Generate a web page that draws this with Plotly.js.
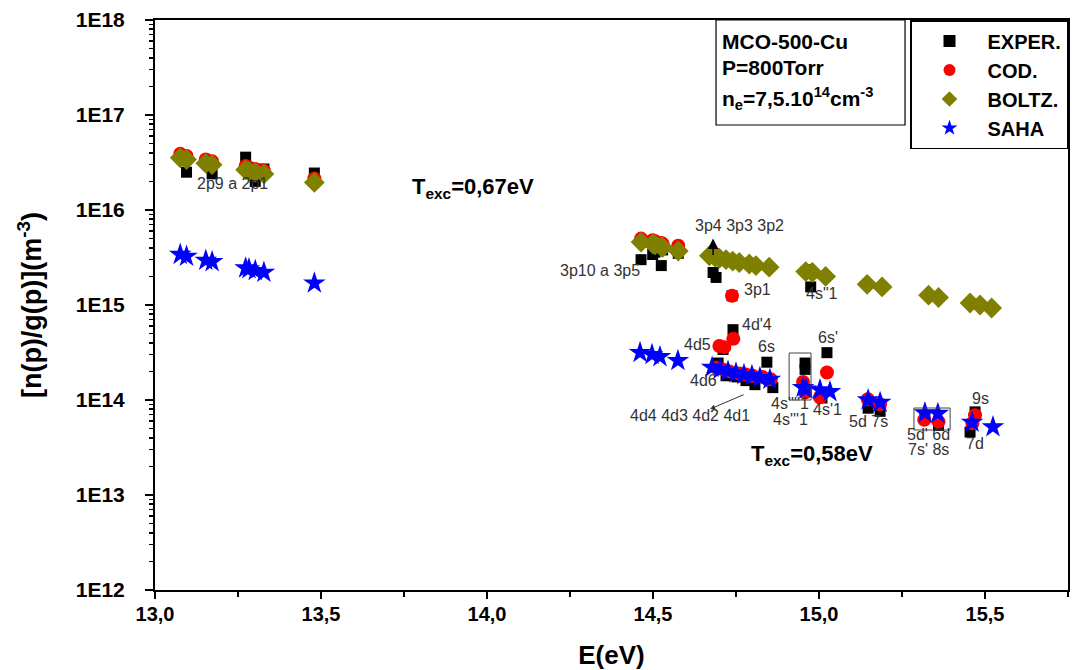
<!DOCTYPE html>
<html>
<head>
<meta charset="utf-8">
<script src="https://cdn.plot.ly/plotly-3.0.1.min.js"></script>
<style>html,body{margin:0;padding:0;background:#fff;}#chart{width:1072px;height:670px;}</style>
</head>
<body>
<div id="chart"></div>
<script>
// ---- data (energy in eV, n(p)/g(p) in m^-3) ----
const experE = [13.076,13.095,13.153,13.172,13.273,13.283,13.302,13.328,13.480,
  14.464,14.499,14.506,14.525,14.529,14.576,14.681,14.690,14.738,14.975,
  14.696,14.711,14.741,14.720,14.753,14.780,14.807,14.861,14.843,14.958,14.958,15.024,15.009,
  15.148,15.184,15.319,15.360,15.470,15.455];
const experV = [3.7e16,2.5e16,3.2e16,2.4e16,3.6e16,2.8e16,2.0e16,2.7e16,2.45e16,
  3.0e15,3.4e15,3.6e15,2.6e15,3.8e15,3.5e15,2.2e15,1.95e15,1.25e15,1.55e15,
  2.45e14,3.4e14,5.5e14,1.8e14,1.75e14,1.6e14,1.45e14,1.35e14,2.5e14,2.45e14,2.1e14,3.15e14,1.05e14,
  8.2e13,7.6e13,6.5e13,5.4e13,7.5e13,4.6e13];

const codE = [13.076,13.095,13.153,13.172,13.273,13.283,13.302,13.328,13.480,
  14.464,14.499,14.506,14.525,14.529,14.576,14.681,14.687,14.738,14.975,
  14.700,14.715,14.742,14.690,14.710,14.730,14.760,14.780,14.800,14.830,14.855,
  14.952,14.958,15.024,15.003,15.147,15.184,15.317,15.360,15.470,15.462];
const codV = [3.9e16,3.7e16,3.4e16,3.25e16,2.9e16,2.8e16,2.7e16,2.6e16,2.15e16,
  5.0e15,4.8e15,4.7e15,4.5e15,4.4e15,4.2e15,3.5e15,3.4e15,1.25e15,2.3e15,
  3.7e14,3.6e14,4.4e14,2.2e14,2.1e14,2.0e14,1.9e14,1.85e14,1.8e14,1.75e14,1.65e14,
  1.55e14,1.2e14,1.95e14,1.07e14,1.02e14,9.0e13,6.2e13,5.9e13,6.9e13,5.7e13];

const boltzE = [13.076,13.095,13.153,13.172,13.273,13.283,13.302,13.328,13.480,
  14.464,14.499,14.506,14.525,14.529,14.576,
  14.670,14.687,14.700,14.720,14.740,14.760,14.790,14.810,14.850,
  14.960,14.980,15.020,15.145,15.190,15.330,15.360,15.455,15.485,15.520];
const boltzV = [3.55e16,3.4e16,3.1e16,3.0e16,2.65e16,2.55e16,2.5e16,2.4e16,1.95e16,
  4.6e15,4.4e15,4.3e15,4.1e15,4.05e15,3.7e15,
  3.3e15,3.2e15,3.1e15,3.0e15,2.9e15,2.8e15,2.7e15,2.6e15,2.5e15,
  2.25e15,2.2e15,2.0e15,1.65e15,1.55e15,1.27e15,1.2e15,1.05e15,1.0e15,9.3e14];

const sahaE = [13.076,13.095,13.153,13.172,13.273,13.283,13.302,13.328,13.480,
  14.461,14.497,14.521,14.575,
  14.678,14.702,14.726,14.750,14.774,14.798,14.822,14.852,
  14.952,14.961,15.003,15.033,15.148,15.184,15.319,15.358,15.461,15.524];
const sahaV = [3.4e15,3.25e15,2.95e15,2.85e15,2.45e15,2.4e15,2.3e15,2.2e15,1.7e15,
  3.15e14,3.0e14,2.85e14,2.6e14,
  2.2e14,2.1e14,2.0e14,1.92e14,1.85e14,1.8e14,1.72e14,1.65e14,
  1.35e14,1.3e14,1.28e14,1.22e14,1.0e14,9.4e13,7.3e13,7.2e13,5.8e13,5.2e13];

const seriesNames = ['EXPER.','COD.','BOLTZ.','SAHA'];
const xTickVals = [13.0,13.5,14.0,14.5,15.0,15.5];
const xTickText = ['13,0','13,5','14,0','14,5','15,0','15,5'];
const yTickVals = [1e12,1e13,1e14,1e15,1e16,1e17,1e18];
const yTickText = ['1E12','1E13','1E14','1E15','1E16','1E17','1E18'];

// level labels: [text, E, log10(value)]
const levelLabels = [
  ['2p9 a 2p1',13.232,16.284],
  ['3p10 a 3p5',14.34,15.368],
  ['3p4 3p3 3p2',14.762,15.832],
  ['3p1',14.816,15.158],
  ['4s"1',15.009,15.116],
  ["4d'4",14.813,14.80],
  ["6s'",15.027,14.653],
  ['4d5',14.633,14.589],
  ['6s',14.843,14.568],
  ['4d6',14.651,14.21],
  ["4s''''1",14.913,13.958],
  ["4s'''1",14.913,13.79],
  ["4s'1",15.027,13.895],
  ['4d4 4d3 4d2 4d1',14.611,13.832],
  ['5d 7s',15.15,13.779],
  ["5d' 6d",15.331,13.632],
  ["7s' 8s",15.331,13.474],
  ['9s',15.485,14.02],
  ['7d',15.47,13.547]
];

const FONT = 'Liberation Sans, Arial, sans-serif';

const traces = [
  {x: experE, y: experV, name: seriesNames[0], mode: 'markers', type: 'scatter',
   marker: {symbol: 'square', size: 11, color: '#000000'}},
  {x: codE, y: codV, name: seriesNames[1], mode: 'markers', type: 'scatter',
   marker: {symbol: 'circle', size: 14, color: '#ff0000'}},
  {x: boltzE, y: boltzV, name: seriesNames[2], mode: 'markers', type: 'scatter',
   marker: {symbol: 'diamond', size: 16, color: '#808000'}},
  {x: sahaE, y: sahaV, name: seriesNames[3], mode: 'markers', type: 'scatter',
   marker: {symbol: 'star', size: 17, color: '#0000ff'}}
];

const annotations = levelLabels.map(l => ({
  text: l[0], x: l[1], y: l[2], xref: 'x', yref: 'y', showarrow: false,
  font: {family: FONT, size: 16, color: '#333333'}
}));
annotations.push(
  {text: '<b>T<sub>exc</sub>=0,67eV</b>', x: 13.768, y: 16.23, xref: 'x', yref: 'y', xanchor: 'left',
   showarrow: false, font: {family: FONT, size: 22, color: '#000'}},
  {text: '<b>T<sub>exc</sub>=0,58eV</b>', x: 14.79, y: 13.42, xref: 'x', yref: 'y', xanchor: 'left',
   showarrow: false, font: {family: FONT, size: 22, color: '#000'}},
  {text: '', x: 14.672, y: 13.905, xref: 'x', yref: 'y', showarrow: true, ax: 35, ay: -15,
   arrowhead: 2, arrowsize: 1, arrowwidth: 1, arrowcolor: '#333'},
  {text: '', x: 14.681, y: 15.70, xref: 'x', yref: 'y', showarrow: true, ax: 0, ay: 18,
   arrowhead: 2, arrowsize: 1.4, arrowwidth: 1.5, arrowcolor: '#000'},
  {text: '<b>MCO-500-Cu</b>', xref: 'paper', yref: 'paper', x: 0.619, y: 0.962, xanchor: 'left', yanchor: 'middle',
   showarrow: false, font: {family: FONT, size: 21, color: '#000'}},
  {text: '<b>P=800Torr</b>', xref: 'paper', yref: 'paper', x: 0.619, y: 0.916, xanchor: 'left', yanchor: 'middle',
   showarrow: false, font: {family: FONT, size: 21, color: '#000'}},
  {text: '<b>n<sub>e</sub>=7,5.10<sup>14</sup>cm<sup>-3</sup></b>', xref: 'paper', yref: 'paper', x: 0.619, y: 0.862,
   xanchor: 'left', yanchor: 'middle', showarrow: false, font: {family: FONT, size: 21, color: '#000'}}
);

const layout = {
  width: 1072, height: 670,
  margin: {l: 155, r: 4, t: 20, b: 80},
  paper_bgcolor: '#fff', plot_bgcolor: '#fff',
  font: {family: FONT, color: '#000'},
  showlegend: true,
  legend: {x: 1, xanchor: 'right', y: 1, yanchor: 'top', bgcolor: '#fff', bordercolor: '#000', borderwidth: 1.5,
           itemwidth: 66, tracegroupgap: 0,
           font: {family: FONT, size: 20, color: '#000', weight: 'bold'}, itemsizing: 'constant'},
  xaxis: {range: [13.0, 15.75], tickmode: 'array', tickvals: xTickVals, ticktext: xTickText,
          ticks: 'outside', ticklen: 7, tickwidth: 2, tickcolor: '#000', ticklabelstandoff: -2,
          showline: true, linecolor: '#000', linewidth: 2, mirror: true, showgrid: false, zeroline: false,
          minor: {dtick: 0.25, tick0: 13, ticks: 'outside', ticklen: 5, tickwidth: 2, tickcolor: '#000', showgrid: false},
          tickfont: {family: FONT, size: 20, color: '#000', weight: 'bold'},
          title: {text: '<b>E(eV)</b>', font: {family: FONT, size: 26, color: '#000'}, standoff: 22}},
  yaxis: {type: 'log', range: [12, 18], tickmode: 'array', tickvals: yTickVals, ticktext: yTickText,
          ticks: 'outside', ticklen: 8, tickwidth: 2, tickcolor: '#000', ticklabelstandoff: 16,
          showline: true, linecolor: '#000', linewidth: 2, mirror: true, showgrid: false, zeroline: false,
          minor: {dtick: 'D1', ticks: 'outside', ticklen: 4, tickwidth: 1.5, tickcolor: '#000', showgrid: false},
          tickfont: {family: FONT, size: 21, color: '#000', weight: 'bold'},
          title: {text: '<b>[n(p)/g(p)](m<sup>-3</sup>)</b>', font: {family: FONT, size: 27, color: '#000'}, standoff: 26}},
  shapes: [
    {type: 'rect', xref: 'paper', yref: 'paper', x0: 0.6145, x1: 0.8215, y0: 0.8158, y1: 1.0,
     line: {color: '#000', width: 1.2}},
    {type: 'rect', xref: 'x', yref: 'paper', x0: 14.91, x1: 14.976, y0: (590-400)/570, y1: (590-353)/570,
     line: {color: '#444', width: 1}},
    {type: 'rect', xref: 'x', yref: 'paper', x0: 15.286, x1: 15.395, y0: (590-430)/570, y1: (590-408)/570,
     line: {color: '#444', width: 1}}
  ],
  annotations: annotations
};

Plotly.newPlot('chart', traces, layout, {displayModeBar: false, staticPlot: true});
</script>
</body>
</html>
